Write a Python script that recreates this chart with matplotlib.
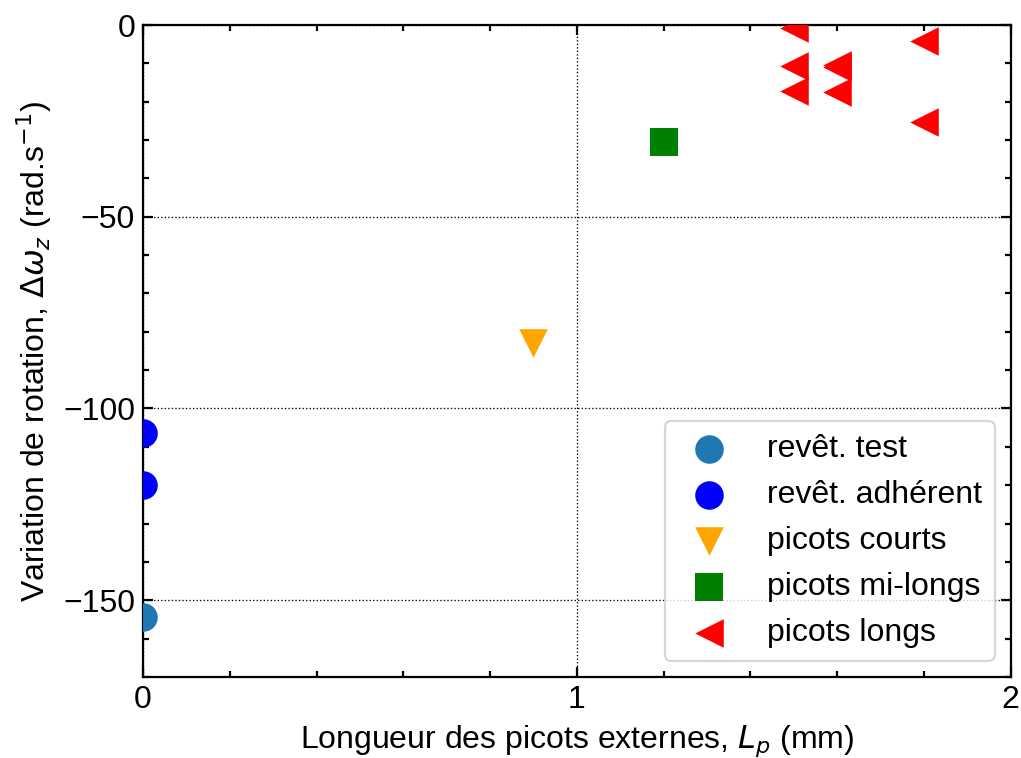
import matplotlib
matplotlib.use("Agg")
import matplotlib.pyplot as plt
from matplotlib.ticker import MultipleLocator

plt.rcParams['font.family'] = ['Liberation Sans', 'DejaVu Sans']
plt.rcParams['font.size'] = 14.4

# Données
series_labels = ["revêt. test", "revêt. adhérent", "picots courts", "picots mi-longs", "picots longs"]
series_colors = ["#1f77b4", "blue", "orange", "green", "red"]
series_markers = ["o", "o", "v", "s", "<"]

x_test = [0.0]
y_test = [-154.4]
x_adherent = [0.0, 0.0]
y_adherent = [-106.5, -120.0]
x_courts = [0.9]
y_courts = [-82.8]
x_milongs = [1.2]
y_milongs = [-30.5]
x_longs = [1.5, 1.5, 1.5, 1.6, 1.6, 1.6, 1.8, 1.8]
y_longs = [-0.8, -10.8, -17.2, -10.5, -11.0, -17.4, -4.1, -25.2]

xs = [x_test, x_adherent, x_courts, x_milongs, x_longs]
ys = [y_test, y_adherent, y_courts, y_milongs, y_longs]

fig = plt.figure(figsize=(1021 / 160, 758 / 160), dpi=160)
ax = fig.add_axes([0.140, 0.107, 0.850, 0.860])

for x, y, lab, col, mk in zip(xs, ys, series_labels, series_colors, series_markers):
    ax.scatter(x, y, s=165, c=col, marker=mk, label=lab, linewidths=0, zorder=3)

ax.set_xlim(0, 2)
ax.set_ylim(-170, 0)
ax.xaxis.set_major_locator(MultipleLocator(1))
ax.xaxis.set_minor_locator(MultipleLocator(0.2))
ax.yaxis.set_major_locator(MultipleLocator(50))
ax.yaxis.set_minor_locator(MultipleLocator(10))
ax.tick_params(which='both', direction='in', top=True, right=True, width=1)
ax.tick_params(which='major', length=4.5)
ax.tick_params(which='minor', length=2.5)
for sp in ax.spines.values():
    sp.set_linewidth(1.0)

ax.grid(True, which='major', color='black', linestyle=':', linewidth=0.6)

ax.set_xlabel("Longueur des picots externes, $L_p$ (mm)")
ax.set_ylabel("Variation de rotation, $\\Delta\\omega_z$ (rad.s$^{-1}$)")

ax.legend(loc='lower right')

fig.savefig("out.png", dpi=160)
